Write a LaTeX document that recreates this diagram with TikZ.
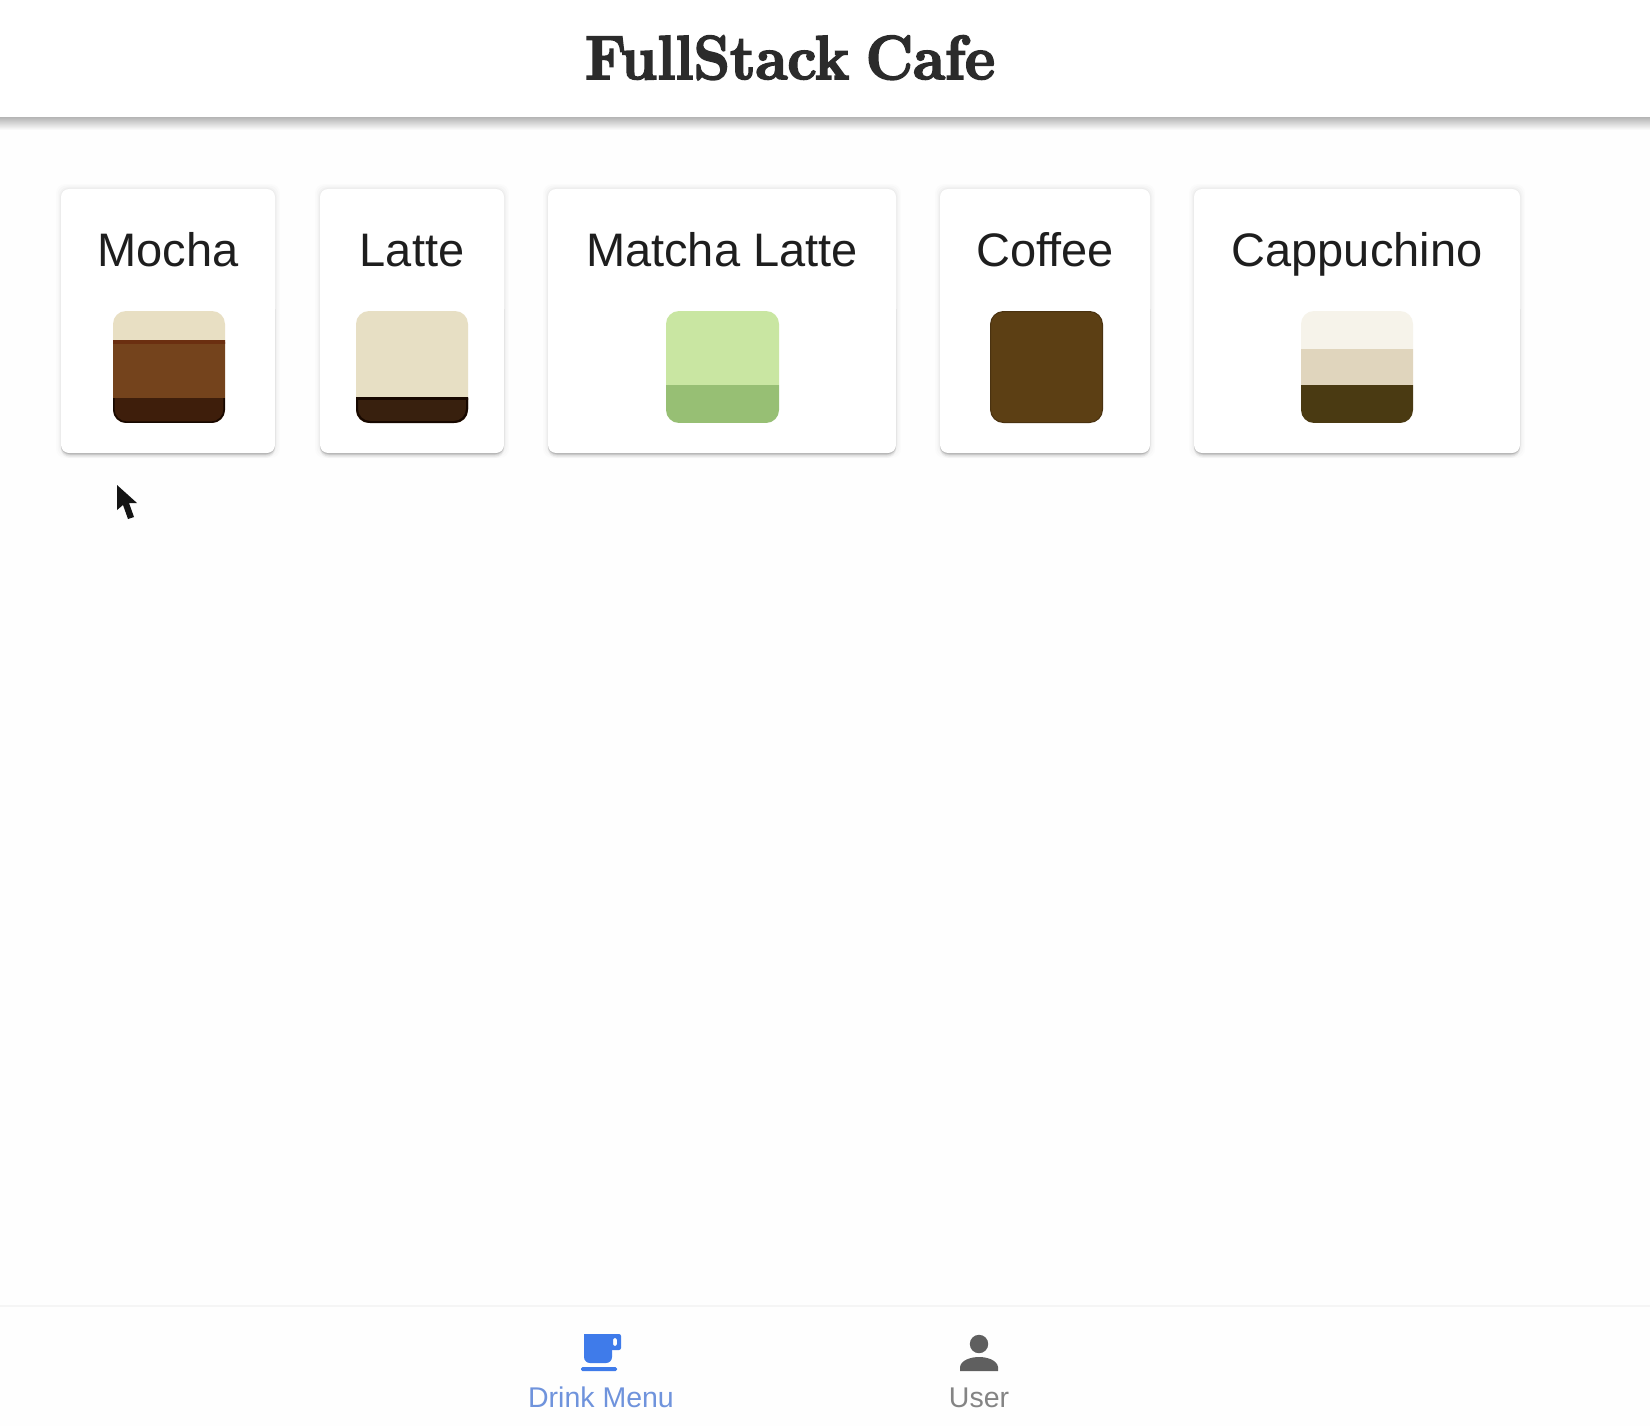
\documentclass[tikz,border=0pt]{standalone}
\usepackage{fontspec}
\newfontfamily\uifont{Liberation Sans}
\newfontfamily\titlefont{Latin Modern Roman}[BoldFeatures={FakeBold=3,FakeStretch=0.94},WordSpace=0.75]
\definecolor{pagebg}{HTML}{FEFEFE}
\definecolor{titlecol}{HTML}{2B2B2B}
\definecolor{labelcol}{HTML}{1E1E1E}
\definecolor{tabblue}{HTML}{3F7BEA}
\definecolor{tabbluetext}{HTML}{6F93DC}
\definecolor{tabgray}{HTML}{5F5F5F}
\definecolor{tabgraytext}{HTML}{848484}
\definecolor{mochatop}{HTML}{E8DFC3}
\definecolor{mochaline}{HTML}{6B2F10}
\definecolor{mochamid}{HTML}{74431C}
\definecolor{mochabot}{HTML}{3E1E0B}
\definecolor{darkedge}{HTML}{170800}
\definecolor{lattetop}{HTML}{E7DFC4}
\definecolor{lattebot}{HTML}{38200E}
\definecolor{matchatop}{HTML}{C9E6A2}
\definecolor{matchabot}{HTML}{97BF74}
\definecolor{coffeecol}{HTML}{5C3F14}
\definecolor{coffeeedge}{HTML}{4A3210}
\definecolor{capputop}{HTML}{F6F3EA}
\definecolor{cappumid}{HTML}{E0D5BD}
\definecolor{cappubot}{HTML}{4A3A12}
\newcommand{\cardbox}[4]{% name, x1, x2, label
  \foreach \g/\o in {5/.012,3.5/.015,2/.02,1/.025}{
    \fill[black,opacity=\o,rounded corners=9] (#2-\g,189-\g) rectangle (#3+\g,453+\g);
  }
  \foreach \g/\o in {5/.03,3.5/.05,2/.08,1/.12}{
    \fill[black,opacity=\o,rounded corners=9] (#2,300) rectangle (#3,453+\g);
  }
  \fill[white,rounded corners=8] (#2,189) rectangle (#3,453);
  \node[cardtext] (#1) at ({(#2+#3)/2},266) {#4};
}
\newcommand{\layer}[3]{\fill[#1] (0,#2) rectangle (1650,#3);}
\tikzset{
  x=1pt,y=-1pt,
  cardtext/.style={anchor=base,inner sep=0,text=labelcol,font=\uifont\fontsize{47}{47}\selectfont},
  tabtext/.style={anchor=base,inner sep=0,font=\uifont\fontsize{28.5}{29}\selectfont},
  swatchclip/.style={rounded corners=13}
}
\begin{document}
\begin{tikzpicture}
\useasboundingbox (0,0) rectangle (1650,1426);
\fill[pagebg] (0,0) rectangle (1650,1426);
% header
\fill[white] (0,0) rectangle (1650,118);
\shade[top color=black!27,bottom color=pagebg] (0,118) rectangle (1650,130);
\node[anchor=base,inner sep=0,text=titlecol,font=\titlefont\bfseries\fontsize{62}{62}\selectfont] (title) at (790,79) {FullStack Cafe};
% cards
\cardbox{mocha}{61}{275}{Mocha}
\cardbox{latte}{320}{504}{Latte}
\cardbox{matcha}{548}{896}{Matcha Latte}
\cardbox{coffee}{940}{1150}{Coffee}
\cardbox{cappu}{1194}{1520}{Cappuchino}
% swatch: mocha
\begin{scope}
  \clip[swatchclip] (113,311) rectangle (225,423);
  \layer{mochatop}{311}{342}
  \layer{mochamid}{342}{398}
  \layer{mochaline}{340}{344}
  \layer{mochabot}{398}{423}
\end{scope}
\draw[darkedge,line width=1.5,rounded corners=13] (113.8,398) -- (113.8,422.2) -- (224.2,422.2) -- (224.2,398);
% swatch: latte
\begin{scope}
  \clip[swatchclip] (356,311) rectangle (468,423);
  \layer{lattetop}{311}{398}
  \layer{lattebot}{398}{423}
  \layer{darkedge}{397}{400}
\end{scope}
\draw[darkedge,line width=2,rounded corners=13] (357,398) -- (357,422) -- (467,422) -- (467,398);
% swatch: matcha
\begin{scope}
  \clip[swatchclip] (666,311) rectangle (779,423);
  \layer{matchatop}{311}{385}
  \layer{matchabot}{385}{423}
\end{scope}
% swatch: coffee
\fill[coffeecol,draw=coffeeedge,line width=1,rounded corners=13] (990.5,311.5) rectangle (1102.5,422.5);
% swatch: cappuccino
\begin{scope}
  \clip[swatchclip] (1301,311) rectangle (1413,423);
  \layer{capputop}{311}{349}
  \layer{cappumid}{349}{385}
  \layer{cappubot}{385}{423}
\end{scope}
% cursor
\fill[black!92] (117,485) -- (117,510) -- (123,505) -- (128,519) -- (134,517) -- (129,503) -- (137,503) -- cycle;
% bottom bar
\draw[black!4,line width=1.5] (0,1306) -- (1650,1306);
% cup icon
\fill[tabblue,rounded corners=6] (584,1334) -- (584,1363) -- (612,1363) -- (612,1334) -- cycle;
\fill[tabblue] (584,1334) rectangle (612,1345);
\fill[tabblue,even odd rule,rounded corners=2] (606,1334) rectangle (621,1350) (613,1338) rectangle (617,1346);
\fill[tabblue,rounded corners=1.5] (581,1367) rectangle (617,1371);
\node[tabtext,text=tabbluetext] (drink) at (601,1407) {Drink Menu};
% user icon
\fill[tabgray] (979,1344) circle (9.2);
\fill[tabgray] (960,1371) -- (960,1367) .. controls (961,1360) and (971,1357) .. (979,1357) .. controls (987,1357) and (997,1360) .. (998,1367) -- (998,1371) -- cycle;
\node[tabtext,text=tabgraytext] (user) at (979,1407) {User};
\end{tikzpicture}
\end{document}
